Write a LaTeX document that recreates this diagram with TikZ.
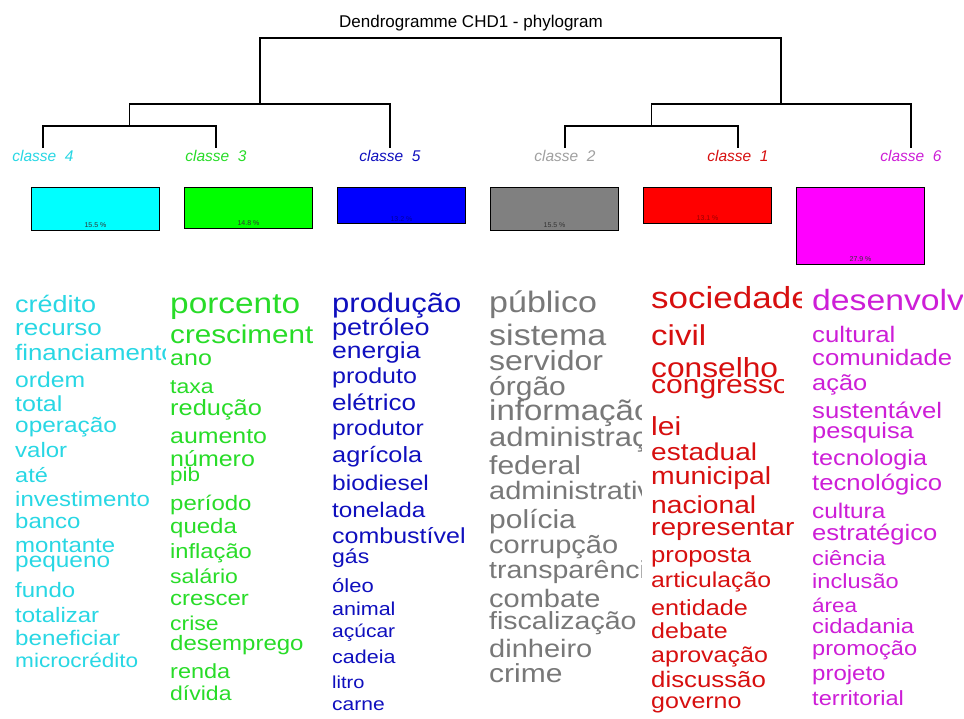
\documentclass[tikz,border=0pt]{standalone}
\usepackage{fontspec}
\setmainfont{Liberation Sans}
\newfontfamily\wordfont[FakeStretch=1.15]{Liberation Sans}
\usetikzlibrary{positioning}

\definecolor{col4}{RGB}{40,215,228}
\definecolor{col3}{RGB}{40,220,40}
\definecolor{col5}{RGB}{15,15,190}
\definecolor{col2}{RGB}{120,120,120}
\definecolor{col1}{RGB}{215,15,15}
\definecolor{col6}{RGB}{205,30,215}
\definecolor{fill4}{RGB}{0,255,255}
\definecolor{fill3}{RGB}{0,255,0}
\definecolor{fill5}{RGB}{0,0,255}
\definecolor{fill2}{RGB}{128,128,128}
\definecolor{fill1}{RGB}{255,0,0}
\definecolor{fill6}{RGB}{255,0,255}
\newcommand{\wsize}[1]{\pgfmathsetlengthmacro\wlen{#1/1.15}\wordfont\fontsize{\wlen}{\wlen}\selectfont}

\begin{document}
\begin{tikzpicture}[x=1pt, y=-1pt,
  link/.style={line width=1.4pt, black},
  cls/.style={font=\fontsize{15.5}{15.5}\selectfont\itshape, inner sep=0pt},
  bar/.style={draw=black, line width=1.2pt, anchor=north, minimum width=128pt, inner sep=0pt},
  pct/.style={font=\fontsize{7}{7}\selectfont, text=black!80, inner sep=0pt},
  wd/.style={anchor=base west, inner sep=0pt}]

  \useasboundingbox[fill=white] (0,0) rectangle (964,718);

  \node (ttl) at (471,23) {\fontsize{17}{17}\selectfont Dendrogramme CHD1 - phylogram};

  \node [cls, text=col4] (c4) at (43,156) {classe\ \ 4};
  \node [cls, text=col3] (c3) at (216,156) {classe\ \ 3};
  \node [cls, text=col5] (c5) at (390,156) {classe\ \ 5};
  \node [cls, text=col2!70] (c2) at (565,156) {classe\ \ 2};
  \node [cls, text=col1] (c1) at (738,156) {classe\ \ 1};
  \node [cls, text=col6] (c6) at (911,156) {classe\ \ 6};

  \coordinate (t4) at (43,148);
  \coordinate (t3) at (216,148);
  \coordinate (t5) at (390,148);
  \coordinate (t2) at (565,148);
  \coordinate (t1) at (738,148);
  \coordinate (t6) at (911,148);
  \coordinate (n43) at (129.5,126);
  \coordinate (n435) at (260,104);
  \coordinate (n21) at (651.5,126);
  \coordinate (n216) at (781,104);
  \coordinate (root) at (520,38);

  \draw [link] (t4) |- (n43) -| (t3);
  \draw [link] (n43) |- (n435) -| (t5);
  \draw [link] (t2) |- (n21) -| (t1);
  \draw [link] (n21) |- (n216) -| (t6);
  \draw [link] (n435) |- (root) -| (n216);

  \node [bar, fill=fill4, minimum height=42.5pt] (b4) at (95.5,187) {};
  \node [bar, fill=fill3, minimum height=40.6pt] (b3) at (248.5,187) {};
  \node [bar, fill=fill5, minimum height=36.2pt] (b5) at (401.5,187) {};
  \node [bar, fill=fill2, minimum height=42.5pt] (b2) at (554.5,187) {};
  \node [bar, fill=fill1, minimum height=35.9pt] (b1) at (707.5,187) {};
  \node [bar, fill=fill6, minimum height=76.5pt] (b6) at (860.5,187) {};

  \node [pct, above=3pt of b4.south] (p4) {15.5 \%};
  \node [pct, above=3pt of b3.south] (p3) {14.8 \%};
  \node [pct, above=3pt of b5.south, text=blue!60!black] (p5) {13.2 \%};
  \node [pct, above=3pt of b2.south] (p2) {15.5 \%};
  \node [pct, above=3pt of b1.south, text=red!60!black] (p1) {13.1 \%};
  \node [pct, above=3pt of b6.south] (p6) {27.9 \%};

  \node [wd, text=col4] (w4a) at (15,312) {\wsize{27}crédito};
  \node [wd, text=col4] (w4b) at (15,335) {\wsize{26}recurso};
  \begin{scope}
    \clip (0,330) rectangle (165,372);
    \node [wd, text=col4] (w4c) at (15,360.5) {\wsize{25.8}financiamento};
  \end{scope}
  \node [wd, text=col4] (w4d) at (15,387) {\wsize{24.7}ordem};
  \node [wd, text=col4] (w4e) at (15,411) {\wsize{25}total};
  \node [wd, text=col4] (w4f) at (15,432) {\wsize{24.4}operação};
  \node [wd, text=col4] (w4g) at (15,457) {\wsize{24}valor};
  \node [wd, text=col4] (w4h) at (15,482) {\wsize{23.5}até};
  \node [wd, text=col4] (w4i) at (15,506) {\wsize{24}investimento};
  \node [wd, text=col4] (w4j) at (15,528) {\wsize{24}banco};
  \node [wd, text=col4] (w4k) at (15,552.5) {\wsize{24}montante};
  \node [wd, text=col4] (w4l) at (15,567.5) {\wsize{24.4}pequeno};
  \node [wd, text=col4] (w4m) at (15,597.5) {\wsize{24}fundo};
  \node [wd, text=col4] (w4n) at (15,622.5) {\wsize{24}totalizar};
  \node [wd, text=col4] (w4o) at (15,645.5) {\wsize{24.2}beneficiar};
  \node [wd, text=col4] (w4p) at (15,667) {\wsize{22.6}microcrédito};

  \node [wd, text=col3] (w3a) at (170,313) {\wsize{33.4}porcento};
  \begin{scope}
    \clip (160,315) rectangle (313,352);
    \node [wd, text=col3] (w3b) at (170,343) {\wsize{29.6}crescimento};
  \end{scope}
  \node [wd, text=col3] (w3c) at (170,365) {\wsize{25}ano};
  \node [wd, text=col3] (w3d) at (170,393) {\wsize{23}taxa};
  \node [wd, text=col3] (w3e) at (170,415) {\wsize{25.4}redução};
  \node [wd, text=col3] (w3f) at (170,443) {\wsize{24.9}aumento};
  \node [wd, text=col3] (w3g) at (170,466.5) {\wsize{25}número};
  \node [wd, text=col3] (w3h) at (170,481.5) {\wsize{22.5}pib};
  \node [wd, text=col3] (w3i) at (170,510) {\wsize{24}período};
  \node [wd, text=col3] (w3j) at (170,533) {\wsize{24}queda};
  \node [wd, text=col3] (w3k) at (170,558) {\wsize{23.7}inflação};
  \node [wd, text=col3] (w3l) at (170,583) {\wsize{23}salário};
  \node [wd, text=col3] (w3m) at (170,605) {\wsize{24}crescer};
  \node [wd, text=col3] (w3n) at (170,630) {\wsize{23}crise};
  \node [wd, text=col3] (w3o) at (170,650) {\wsize{24}desemprego};
  \node [wd, text=col3] (w3p) at (170,678) {\wsize{23.5}renda};
  \node [wd, text=col3] (w3q) at (170,700) {\wsize{23}dívida};

  \node [wd, text=col5] (w5a) at (332,312) {\wsize{31}produção};
  \node [wd, text=col5] (w5b) at (332,335) {\wsize{27}petróleo};
  \node [wd, text=col5] (w5c) at (332,358) {\wsize{26.5}energia};
  \node [wd, text=col5] (w5d) at (332,383) {\wsize{25}produto};
  \node [wd, text=col5] (w5e) at (332,410) {\wsize{26}elétrico};
  \node [wd, text=col5] (w5f) at (332,435) {\wsize{24.6}produtor};
  \node [wd, text=col5] (w5g) at (332,462) {\wsize{25.3}agrícola};
  \node [wd, text=col5] (w5h) at (332,490) {\wsize{24.5}biodiesel};
  \node [wd, text=col5] (w5i) at (332,517) {\wsize{24.3}tonelada};
  \node [wd, text=col5] (w5j) at (332,543) {\wsize{25}combustível};
  \node [wd, text=col5] (w5k) at (332,563) {\wsize{23}gás};
  \node [wd, text=col5] (w5l) at (332,592) {\wsize{22}óleo};
  \node [wd, text=col5] (w5m) at (332,615) {\wsize{21.5}animal};
  \node [wd, text=col5] (w5n) at (332,637) {\wsize{21}açúcar};
  \node [wd, text=col5] (w5o) at (332,663) {\wsize{21.5}cadeia};
  \node [wd, text=col5] (w5p) at (332,688) {\wsize{20}litro};
  \node [wd, text=col5] (w5q) at (332,710) {\wsize{21}carne};

  \begin{scope}
    \clip (480,285) rectangle (641,718);
    \node [wd, text=col2] (w2a) at (489,312) {\wsize{34}público};
    \node [wd, text=col2] (w2b) at (489,345) {\wsize{34}sistema};
    \node [wd, text=col2] (w2c) at (489,370) {\wsize{32}servidor};
    \node [wd, text=col2] (w2d) at (489,395) {\wsize{30}órgão};
    \node [wd, text=col2] (w2e) at (489,420) {\wsize{33}informação};
    \node [wd, text=col2] (w2f) at (489,446) {\wsize{31}administração};
    \node [wd, text=col2] (w2g) at (489,474) {\wsize{30}federal};
    \node [wd, text=col2] (w2h) at (489,499) {\wsize{29}administrativo};
    \node [wd, text=col2] (w2i) at (489,528) {\wsize{30}polícia};
    \node [wd, text=col2] (w2j) at (489,553) {\wsize{29}corrupção};
    \node [wd, text=col2] (w2k) at (489,578) {\wsize{28.5}transparência};
    \node [wd, text=col2] (w2l) at (489,607) {\wsize{29}combate};
    \node [wd, text=col2] (w2m) at (489,629) {\wsize{28.5}fiscalização};
    \node [wd, text=col2] (w2n) at (489,657) {\wsize{29}dinheiro};
    \node [wd, text=col2] (w2o) at (489,682) {\wsize{30}crime};
  \end{scope}

  \begin{scope}
    \clip (645,280) rectangle (801,318);
    \node [wd, text=col1] (w1a) at (651,308) {\wsize{35}sociedade};
  \end{scope}
  \node [wd, text=col1] (w1b) at (651,345) {\wsize{33}civil};
  \node [wd, text=col1] (w1c) at (651,377) {\wsize{31.7}conselho};
  \begin{scope}
    \clip (645,370) rectangle (783,402);
    \node [wd, text=col1] (w1d) at (651,393) {\wsize{30}congresso};
  \end{scope}
  \node [wd, text=col1] (w1e) at (651,435) {\wsize{30}lei};
  \node [wd, text=col1] (w1f) at (651,460) {\wsize{28}estadual};
  \node [wd, text=col1] (w1g) at (651,484) {\wsize{28.4}municipal};
  \node [wd, text=col1] (w1h) at (651,513) {\wsize{28.2}nacional};
  \node [wd, text=col1] (w1i) at (651,535) {\wsize{28}representar};
  \node [wd, text=col1] (w1j) at (651,562) {\wsize{25.7}proposta};
  \node [wd, text=col1] (w1k) at (651,587) {\wsize{24.8}articulação};
  \node [wd, text=col1] (w1l) at (651,615) {\wsize{25.2}entidade};
  \node [wd, text=col1] (w1m) at (651,638) {\wsize{25}debate};
  \node [wd, text=col1] (w1n) at (651,662) {\wsize{25}aprovação};
  \node [wd, text=col1] (w1o) at (651,687) {\wsize{25.8}discussão};
  \node [wd, text=col1] (w1p) at (651,708) {\wsize{25}governo};

  \begin{scope}
    \clip (805,280) rectangle (962,318);
    \node [wd, text=col6] (w6a) at (812,310) {\wsize{33.7}desenvolvimento};
  \end{scope}
  \node [wd, text=col6] (w6b) at (812,342) {\wsize{25.8}cultural};
  \node [wd, text=col6] (w6c) at (812,365) {\wsize{25.7}comunidade};
  \node [wd, text=col6] (w6d) at (812,390) {\wsize{25.4}ação};
  \node [wd, text=col6] (w6e) at (812,418) {\wsize{25.7}sustentável};
  \node [wd, text=col6] (w6f) at (812,438) {\wsize{25.4}pesquisa};
  \node [wd, text=col6] (w6g) at (812,465) {\wsize{25.2}tecnologia};
  \node [wd, text=col6] (w6h) at (812,490) {\wsize{25.7}tecnológico};
  \node [wd, text=col6] (w6i) at (812,518) {\wsize{24.4}cultura};
  \node [wd, text=col6] (w6j) at (812,540) {\wsize{25.6}estratégico};
  \node [wd, text=col6] (w6k) at (812,565) {\wsize{23.6}ciência};
  \node [wd, text=col6] (w6l) at (812,588) {\wsize{23.6}inclusão};
  \node [wd, text=col6] (w6m) at (812,612) {\wsize{22.5}área};
  \node [wd, text=col6] (w6n) at (812,633) {\wsize{23.8}cidadania};
  \node [wd, text=col6] (w6o) at (812,655) {\wsize{23.6}promoção};
  \node [wd, text=col6] (w6p) at (812,680) {\wsize{24}projeto};
  \node [wd, text=col6] (w6q) at (812,705) {\wsize{23.6}territorial};

\end{tikzpicture}
\end{document}
